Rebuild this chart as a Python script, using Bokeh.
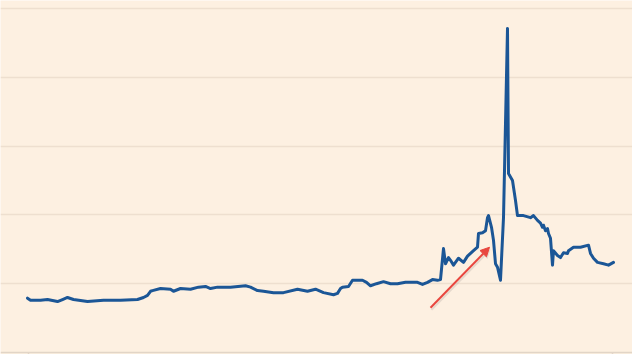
from bokeh.plotting import figure
from bokeh.models import Range1d, Span, Arrow, NormalHead, FixedTicker, Grid
from bokeh.embed import file_html
from bokeh.resources import INLINE

# ---- data (x = period index, y = value in grid units) ----
t = [-1, 2, 12, 19, 29, 34, 39, 45, 59, 75, 92, 109, 115, 119, 122, 124, 132, 142, 145,
     152, 162, 170, 177, 182, 189, 202, 217, 222, 229, 235, 245, 252, 255, 269, 279, 287,
     295, 305, 309, 312, 314, 320, 324, 328, 334, 338, 342, 348, 355, 362, 369, 377, 382,
     389, 394, 399, 404, 409, 412, 415, 417, 420, 422, 425, 430, 435, 439, 442, 445, 449,
     450, 454, 457, 459, 460, 463, 465, 467, 469, 472, 475, 479, 480, 484, 487, 489, 495,
     502, 505, 509, 512, 514, 515, 517, 519, 520, 522, 524, 525, 529, 532, 535, 539, 540,
     545, 552, 560, 562, 565, 569, 575, 580, 585]
v = [0.79, 0.76, 0.76, 0.77, 0.74, 0.77, 0.80, 0.77, 0.74, 0.76, 0.76, 0.77, 0.80, 0.83,
     0.89, 0.90, 0.93, 0.92, 0.89, 0.93, 0.92, 0.95, 0.96, 0.93, 0.95, 0.95, 0.97, 0.95,
     0.90, 0.89, 0.87, 0.87, 0.87, 0.92, 0.89, 0.92, 0.87, 0.84, 0.86, 0.93, 0.95, 0.96,
     1.05, 1.05, 1.05, 1.02, 0.97, 1.00, 1.03, 1.00, 1.00, 1.02, 1.02, 1.02, 0.99, 1.02,
     1.06, 1.05, 1.06, 1.51, 1.29, 1.38, 1.34, 1.27, 1.37, 1.31, 1.40, 1.44, 1.48, 1.53,
     1.73, 1.74, 1.77, 1.96, 1.99, 1.82, 1.63, 1.29, 1.24, 1.05, 1.96, 4.71, 2.60, 2.50,
     2.21, 1.99, 1.99, 1.96, 1.99, 1.92, 1.88, 1.82, 1.85, 1.77, 1.80, 1.73, 1.66, 1.27,
     1.48, 1.41, 1.38, 1.45, 1.44, 1.48, 1.53, 1.53, 1.56, 1.44, 1.37, 1.31, 1.29, 1.27,
     1.31]
grid_levels = [1, 2, 3, 4, 5]
x_ticks = [0, 584]
arrow_tail = (402, 0.65)
arrow_tip = (461, 1.53)

BG = "#FDF0E1"
LINE = "#1B5696"

p = figure(width=632, height=354, output_backend="svg", toolbar_location=None,
           x_range=Range1d(-28, 604), y_range=Range1d(-0.029, 5.116),
           x_axis_location=None, y_axis_location=None, min_border=0,
           background_fill_color=BG, border_fill_color=BG, outline_line_color=None)
for g in p.grid:
    g.visible = False

p.add_layout(Grid(dimension=1, ticker=FixedTicker(ticks=grid_levels),
                  grid_line_color="#EEDFCF", grid_line_width=1.5))
p.add_layout(Span(location=0, dimension="width", line_color="#E2D5C7", line_width=1.5))
p.segment(x0=x_ticks, y0=[0] * len(x_ticks), x1=x_ticks, y1=[-0.05] * len(x_ticks),
          line_color="#E2D5C7", line_width=1.5)

p.line(t, v, line_color=LINE, line_width=3, line_join="round", line_cap="round")

# shadow of the arrow
p.add_layout(Arrow(x_start=arrow_tail[0] + 1, y_start=arrow_tail[1] - 0.03,
                   x_end=arrow_tip[0] + 1, y_end=arrow_tip[1] - 0.03,
                   line_color="#B8AFA5", line_alpha=0.35, line_width=2,
                   end=NormalHead(size=9, fill_color="#B8AFA5", fill_alpha=0.35,
                                  line_color=None)))
p.add_layout(Arrow(x_start=arrow_tail[0], y_start=arrow_tail[1],
                   x_end=arrow_tip[0], y_end=arrow_tip[1],
                   line_color="#E8463E", line_width=2,
                   end=NormalHead(size=9, fill_color="#E8463E", line_color="#E8463E")))

open("out.html", "w").write(file_html(p, INLINE))
